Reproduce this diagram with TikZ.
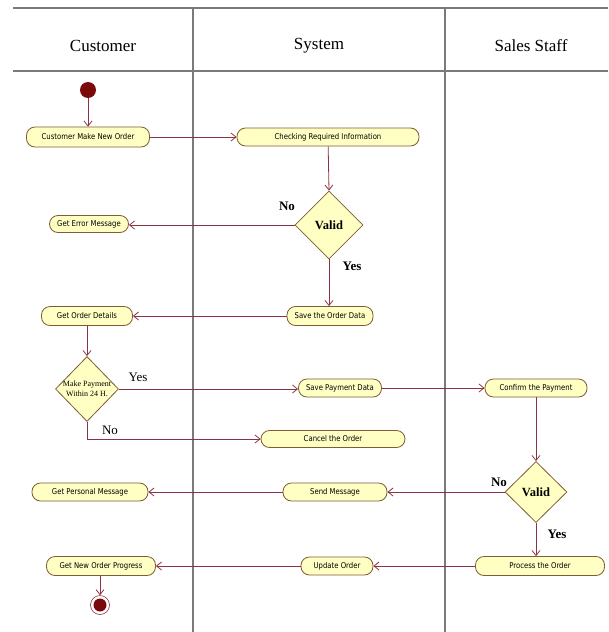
\documentclass[tikz,border=0pt]{standalone}
\usepackage{fontspec}
\setmainfont{Liberation Serif}
\newfontfamily\actfont[FakeStretch=0.86]{DejaVu Sans}
\usetikzlibrary{shapes.geometric,arrows.meta}
\definecolor{flowred}{HTML}{8B3344}
\definecolor{actfill}{HTML}{FFFFC4}
\definecolor{actline}{HTML}{7E5C34}
\definecolor{lanegray}{HTML}{7A7A7A}
\definecolor{dotred}{HTML}{7A0A0A}
\begin{document}
\begin{tikzpicture}[x=1pt,y=-1pt,
  act/.style={draw=actline, fill=actfill, line width=0.8pt, rounded corners=8.5pt,
    minimum height=18pt, inner sep=0pt, font=\actfont\fontsize{8}{9}\selectfont},
  dec/.style={diamond, draw=actline, fill=actfill, line width=0.8pt, inner sep=0pt},
  flow/.style={draw=flowred, line width=0.8pt, -{Straight Barb[length=5pt,width=8pt]}},
  lane/.style={draw=lanegray, line width=1.3pt},
  head/.style={font=\fontsize{17}{20}\selectfont},
  guard/.style={font=\fontsize{13}{15}\selectfont},
  bguard/.style={font=\bfseries\fontsize{13}{15}\selectfont}
]
\useasboundingbox[fill=white] (0,0) rectangle (608,632);

% swimlane frame
\draw[lane] (13,8) -- (608,8);
\draw[lane] (13,71) -- (608,71);
\draw[lane] (193,8) -- (193,632);
\draw[lane] (445,8) -- (445,632);
\node[head] (hcust) at (103,46) {Customer};
\node[head] (hsys) at (319,46) {System};
\node[head] (hstaff) at (531,46) {Sales Staff};

% start and end
\node[circle, fill=dotred, minimum size=16pt, inner sep=0pt] (start) at (88,90) {};
\node[circle, draw=flowred, fill=white, line width=0.6pt, minimum size=19pt, inner sep=0pt] (end) at (100,605) {};
\fill[dotred] (end.center) circle (6.5pt);

% actions
\node[act, minimum width=123pt, minimum height=20pt] (cmno) at (88,137) {Customer Make New Order};
\node[act, minimum width=182pt] (chk) at (328,137) {Checking Required Information};
\node[act, minimum width=79pt, minimum height=17pt] (gem) at (89,224) {Get Error Message};
\node[act, minimum width=86pt, minimum height=19pt] (sod) at (330,316) {Save the Order Data};
\node[act, minimum width=91pt, minimum height=19pt] (god) at (87,316) {Get Order Details};
\node[act, minimum width=83pt] (spd) at (340,388) {Save Payment Data};
\node[act, minimum width=144pt, minimum height=17pt] (cancel) at (333,439) {Cancel the Order};
\node[act, minimum width=102pt] (cp) at (536,388) {Confirm the Payment};
\node[act, minimum width=104pt] (sm) at (335,492) {Send Message};
\node[act, minimum width=116pt] (gpm) at (90,492) {Get Personal Message};
\node[act, minimum width=129pt, minimum height=19pt] (po) at (540,566) {Process the Order};
\node[act, minimum width=72pt] (uo) at (337,566) {Update Order};
\node[act, minimum width=109pt, minimum height=19pt] (gnop) at (101,566) {Get New Order Progress};

% decisions
\node[dec, minimum width=68pt, minimum height=68pt] (v1) at (329,225) {};
\node[font=\bfseries\fontsize{12.5}{14}\selectfont] (v1t) at (v1) {Valid};
\node[dec, minimum width=63pt, minimum height=65pt] (mp) at (87,389) {};
\node[align=center, font=\fontsize{8}{10}\selectfont] (mpt) at (mp) {Make Payment\\Within 24 H.};
\node[dec, minimum width=62pt, minimum height=61pt] (v2) at (536,492) {};
\node[font=\bfseries\fontsize{12.5}{14}\selectfont] (v2t) at (v2) {Valid};

% guards
\node[bguard] (no1) at (287,206) {No};
\node[bguard] (yes1) at (352,266) {Yes};
\node[guard] (yesmp) at (138,377) {Yes};
\node[guard] (nomp) at (110,430) {No};
\node[bguard] (no2) at (499,482) {No};
\node[bguard] (yes2) at (557,534) {Yes};

% control flow
\draw[flow] (start) -- (cmno);
\draw[flow] (cmno) -- (chk);
\draw[flow] (chk) -- (v1.north);
\draw[flow] (v1.west) -- (v1.west -| gem.east);
\draw[flow] (v1.south) -- (v1.south |- sod.north);
\draw[flow] (sod) -- (god);
\draw[flow] (god) -- (mp.north);
\draw[flow] (mp.east) -- (mp.east -| spd.west);
\draw[flow] (mp.south) |- (cancel.west);
\draw[flow] (spd) -- (cp);
\draw[flow] (cp) -- (v2.north);
\draw[flow] (v2.west) -- (v2.west -| sm.east);
\draw[flow] (sm) -- (gpm);
\draw[flow] (v2.south) -- (v2.south |- po.north);
\draw[flow] (po) -- (uo);
\draw[flow] (uo) -- (gnop);
\draw[flow] (gnop.south -| end.north) -- (end.north);
\end{tikzpicture}
\end{document}
